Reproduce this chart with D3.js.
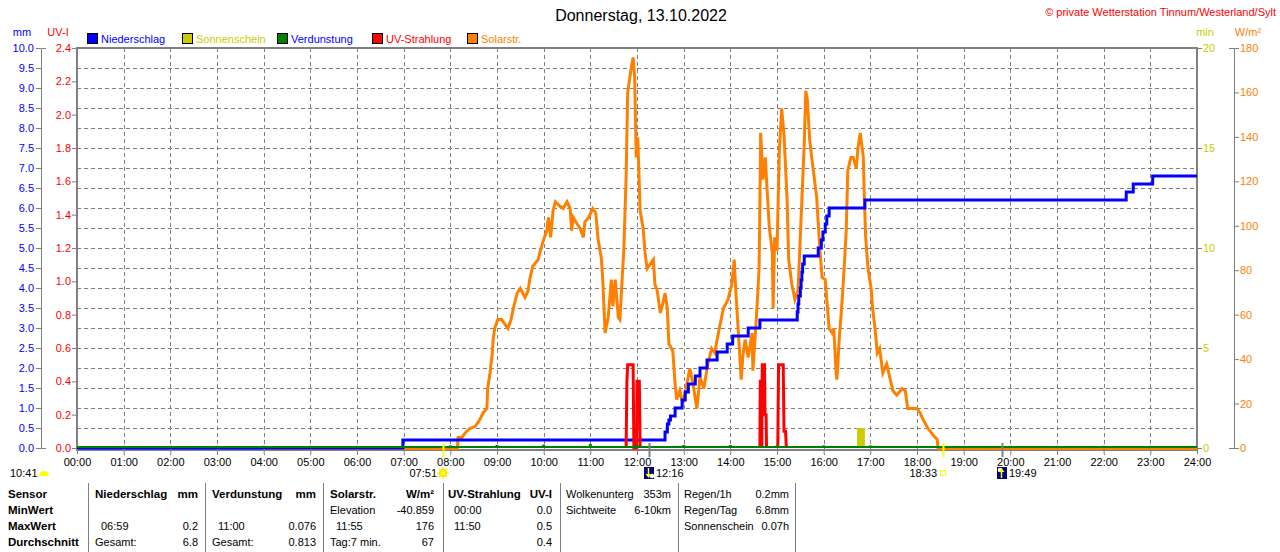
<!DOCTYPE html>
<html>
<head>
<meta charset="utf-8">
<script src="https://cdn.jsdelivr.net/npm/d3@7"></script>
<style>
  body { margin: 0; background: #fff; }
  svg { display: block; }
</style>
</head>
<body>
<div id="chart"></div>
<script>
// ---- data ----
var hourTicks = d3.range(0, 25);
var hourLabels = hourTicks.map(function (h) { return (h < 10 ? "0" : "") + h + ":00"; });

var mmTicks = d3.range(0, 10.01, 0.5);
var uvTicks = d3.range(0, 2.41, 0.2);
var minTicks = [0, 5, 10, 15, 20];
var wTicks = d3.range(0, 181, 20);

// Niederschlag, cumulative mm (value holds from this time on)
var rainTimes = ["00:00", "06:59", "12:36", "12:39", "12:41", "12:43", "12:49", "12:58", "13:02", "13:06",
  "13:15", "13:21", "13:30", "13:43", "13:56", "14:03", "14:23", "14:38", "15:26", "15:27",
  "15:28", "15:30", "15:31", "15:32", "15:33", "15:35", "15:53", "15:57", "15:59", "16:02",
  "16:04", "16:07", "16:53", "22:29", "22:38", "23:03", "24:00"];
var rainValues = [0, 0.2, 0.4, 0.6, 0.7, 0.8, 1.0, 1.2, 1.4, 1.6,
  1.8, 2.0, 2.2, 2.4, 2.6, 2.8, 3.0, 3.2, 3.4, 3.6,
  3.8, 4.0, 4.2, 4.4, 4.6, 4.8, 5.0, 5.2, 5.4, 5.6,
  5.8, 6.0, 6.2, 6.4, 6.6, 6.8, 6.8];

// Solarstrahlung W/m2
var solarTimes = ["04:04", "08:09", "08:10", "08:15", "08:19", "08:25", "08:32", "08:38", "08:42", "08:47",
  "08:48", "08:51", "08:54", "08:55", "08:57", "09:01", "09:06", "09:14", "09:18", "09:21",
  "09:26", "09:30", "09:36", "09:40", "09:42", "09:46", "09:53", "09:55", "09:59", "10:04",
  "10:06", "10:09", "10:12", "10:15", "10:21", "10:25", "10:30", "10:34", "10:36", "10:38",
  "10:43", "10:47", "10:51", "10:53", "10:58", "11:03", "11:07", "11:10", "11:14", "11:16",
  "11:19", "11:23", "11:27", "11:29", "11:32", "11:36", "11:38", "11:41", "11:43", "11:46",
  "11:48", "11:52", "11:55", "11:57", "11:59", "12:01", "12:04", "12:08", "12:10", "12:13",
  "12:17", "12:21", "12:23", "12:26", "12:30", "12:33", "12:36", "12:39", "12:41", "12:46",
  "12:49", "12:51", "12:55", "12:59", "13:04", "13:08", "13:12", "13:17", "13:21", "13:26",
  "13:31", "13:36", "13:40", "13:43", "13:47", "13:51", "13:57", "14:02", "14:05", "14:07",
  "14:10", "14:14", "14:16", "14:19", "14:23", "14:28", "14:29", "14:33", "14:37", "14:39",
  "14:42", "14:45", "14:47", "14:50", "14:54", "14:55", "14:57", "15:00", "15:03", "15:06",
  "15:09", "15:13", "15:15", "15:19", "15:23", "15:27", "15:32", "15:35", "15:37", "15:39",
  "15:42", "15:46", "15:51", "15:55", "15:58", "16:02", "16:04", "16:07", "16:11", "16:13",
  "16:16", "16:17", "16:20", "16:24", "16:26", "16:29", "16:31", "16:35", "16:38", "16:42",
  "16:44", "16:47", "16:51", "16:52", "16:54", "16:57", "17:01", "17:03", "17:06", "17:09",
  "17:12", "17:16", "17:21", "17:25", "17:29", "17:34", "17:41", "17:45", "17:48", "18:00",
  "18:04", "18:08", "18:14", "18:21", "18:26", "18:27", "24:00"];
var solarValues = [0, 0, 5, 5, 7, 9, 10, 13, 16, 18,
  27, 34, 43, 49, 54, 58, 58, 54, 58, 63,
  70, 72, 68, 71, 76, 82, 85, 88, 93, 98,
  104, 95, 107, 111, 109, 108, 111, 108, 98, 104,
  101, 99, 95, 102, 104, 108, 106, 94, 86, 76,
  52, 59, 76, 64, 76, 59, 58, 77, 89, 122,
  160, 170, 176, 167, 131, 140, 107, 99, 89, 81,
  83, 85, 74, 71, 61, 65, 70, 63, 47, 44,
  29, 22, 26, 20, 29, 36, 29, 18, 32, 27,
  38, 45, 43, 49, 56, 63, 67, 74, 85, 71,
  54, 31, 41, 49, 41, 52, 35, 56, 81, 142,
  121, 131, 118, 100, 88, 63, 95, 89, 134, 153,
  141, 112, 85, 74, 67, 71, 112, 137, 161, 157,
  139, 127, 113, 90, 77, 76, 67, 54, 52, 54,
  34, 31, 49, 68, 79, 98, 125, 131, 131, 126,
  135, 142, 131, 116, 95, 81, 72, 63, 54, 43,
  45, 34, 38, 32, 26, 24, 27, 26, 18, 18,
  16, 13, 9, 6, 4, 0, 0];

// UV-Strahlung, three short bursts
var uvBursts = [
  { times: ["11:46", "11:47", "11:48", "11:55", "11:56", "11:59.5", "12:00", "12:03", "12:04"],
    values: [0, 0.4, 0.5, 0.5, 0, 0, 0.4, 0.4, 0] },
  { times: ["14:38", "14:38.5", "14:40", "14:40.5", "14:41", "14:44", "14:44.5", "14:46", "14:46.5"],
    values: [0, 0.4, 0.4, 0, 0.5, 0.5, 0.2, 0.2, 0] },
  { times: ["15:01", "15:02", "15:08", "15:09", "15:11", "15:12"],
    values: [0, 0.5, 0.5, 0.1, 0.1, 0] }
];

// Sonnenschein minutes per interval
var sunStart = ["16:43"];
var sunEnd = ["16:53"];
var sunMinutes = [1];

// Verdunstung, hourly mm
var evapHours = d3.range(1, 24);
var evapValues = [0.03, 0.03, 0.03, 0.03, 0.03, 0.03, 0.03, 0.04, 0.05, 0.06, 0.076, 0.06,
  0.05, 0.05, 0.04, 0.04, 0.04, 0.03, 0.03, 0.03, 0.03, 0.03, 0.03];

var legendNames = ["Niederschlag", "Sonnenschein", "Verdunstung", "UV-Strahlung", "Solarstr."];
var legendColors = ["#0000ff", "#cccc00", "#008000", "#ff0000", "#ff8000"];
var legendTextColors = ["#0000ff", "#cccc00", "#0000ff", "#ff0000", "#ff8000"];

var eventTimes = ["07:51", "12:16", "18:33", "19:49"];
var eventKinds = ["sunrise", "moonset", "sunset", "moonrise"];

var tableHead = [["Sensor", ""], ["Niederschlag", "mm"], ["Verdunstung", "mm"], ["Solarstr.", "W/m\u00b2"], ["UV-Strahlung", "UV-I"]];
var rowNames = ["MinWert", "MaxWert", "Durchschnitt"];
var rainStats = [["", ""], ["06:59", "0.2"], ["Gesamt:", "6.8"]];
var evapStats = [["", ""], ["11:00", "0.076"], ["Gesamt:", "0.813"]];
var solarStats = [["Elevation", "-40.859"], ["11:55", "176"], ["Tag:7 min.", "67"]];
var uvStats = [["00:00", "0.0"], ["11:50", "0.5"], ["", "0.4"]];
var cloudInfo = [["Wolkenunterg", "353m"], ["Sichtweite", "6-10km"]];
var rainInfo = [["Regen/1h", "0.2mm"], ["Regen/Tag", "6.8mm"], ["Sonnenschein", "0.07h"]];

// ---- drawing ----
var FONT = "'Liberation Sans', Arial, sans-serif";
var GRAY = "#808080";

function hours(s) {
  var p = s.split(":");
  return +p[0] + (+p[1]) / 60;
}

var svg = d3.select("#chart").append("svg")
  .attr("width", 1280)
  .attr("height", 552)
  .style("font-family", FONT);

svg.append("rect").attr("width", 1280).attr("height", 552).attr("fill", "#fff");

var plot = { left: 77, right: 1197, top: 48, bottom: 448 };

var x = d3.scaleLinear().domain([0, 24]).range([plot.left, plot.right]);
var yMm = d3.scaleLinear().domain([0, 10]).range([plot.bottom, plot.top]);
var yUv = d3.scaleLinear().domain([0, 2.4]).range([plot.bottom, plot.top]);
var yMin = d3.scaleLinear().domain([0, 20]).range([plot.bottom, plot.top]);
var yW = d3.scaleLinear().domain([0, 180]).range([plot.bottom, plot.top]);

// title + copyright
svg.append("text")
  .attr("x", 641).attr("y", 21)
  .attr("text-anchor", "middle")
  .style("font-size", "16px")
  .attr("fill", "#000")
  .text("Donnerstag, 13.10.2022");

svg.append("text")
  .attr("x", 1276).attr("y", 16)
  .attr("text-anchor", "end")
  .style("font-size", "11px")
  .attr("fill", "#ff0000")
  .text("\u00a9 private Wetterstation Tinnum/Westerland/Sylt");

// axis unit labels
var unitLabels = [
  { t: "mm", x: 22, c: "#0000ff" },
  { t: "UV-I", x: 58, c: "#ff0000" },
  { t: "min", x: 1205, c: "#cccc00" },
  { t: "W/m\u00b2", x: 1248, c: "#ff8000" }
];
svg.selectAll(".unit").data(unitLabels).enter().append("text")
  .attr("x", d => d.x).attr("y", 36)
  .attr("text-anchor", "middle")
  .style("font-size", "11px")
  .attr("fill", d => d.c)
  .text(d => d.t);

// legend
var legend = svg.selectAll(".legend").data(legendNames).enter().append("g")
  .attr("transform", (d, i) => `translate(${87 + i * 95}, 33)`);
legend.append("rect")
  .attr("x", 0.5).attr("y", 0.5).attr("width", 10).attr("height", 10)
  .attr("fill", (d, i) => legendColors[i])
  .attr("stroke", "#000");
legend.append("text")
  .attr("x", 14).attr("y", 9.5)
  .style("font-size", "11px")
  .attr("fill", (d, i) => legendTextColors[i])
  .text(d => d);

// grid
var grid = svg.append("g").attr("stroke", GRAY).attr("stroke-dasharray", "4,3").attr("shape-rendering", "crispEdges");
grid.selectAll(".h").data(mmTicks.slice(1, -1)).enter().append("line")
  .attr("x1", plot.left).attr("x2", plot.right)
  .attr("y1", d => Math.round(yMm(d)) + 0.5).attr("y2", d => Math.round(yMm(d)) + 0.5);
grid.selectAll(".v").data(hourTicks.slice(1, -1)).enter().append("line")
  .attr("y1", plot.top).attr("y2", plot.bottom + 7)
  .attr("x1", d => Math.round(x(d)) + 0.5).attr("x2", d => Math.round(x(d)) + 0.5);

// plot frame (series are drawn over it)
svg.append("rect")
  .attr("x", plot.left).attr("y", plot.top)
  .attr("width", plot.right - plot.left).attr("height", plot.bottom - plot.top + 2)
  .attr("fill", "none").attr("stroke", GRAY).attr("stroke-width", 2);

// sunshine bars
svg.selectAll(".sun").data(sunMinutes).enter().append("rect")
  .attr("x", (d, i) => x(hours(sunStart[i])))
  .attr("width", (d, i) => x(hours(sunEnd[i])) - x(hours(sunStart[i])))
  .attr("y", d => yMin(d))
  .attr("height", d => yMin(0) - yMin(d))
  .attr("fill", "#cccc00");

// solar radiation
var solarLine = d3.line()
  .x(d => x(hours(d[0])))
  .y(d => yW(d[1]) + 0.5);
svg.append("path")
  .datum(d3.zip(solarTimes, solarValues))
  .attr("d", solarLine)
  .attr("fill", "none")
  .attr("stroke", "#ff8000")
  .attr("stroke-width", 3)
  .attr("stroke-linejoin", "miter");

// rain, cumulative steps
var rainLine = d3.line()
  .x(d => x(hours(d[0])))
  .y(d => yMm(d[1]))
  .curve(d3.curveStepAfter);
svg.append("path")
  .datum(d3.zip(rainTimes, rainValues))
  .attr("d", rainLine)
  .attr("fill", "none")
  .attr("stroke", "#0000ff")
  .attr("stroke-width", 3);

// UV bursts
var uvLine = d3.line()
  .x(d => x(hours(d[0])))
  .y(d => yUv(d[1]));
svg.selectAll(".uv").data(uvBursts).enter().append("path")
  .attr("d", d => uvLine(d3.zip(d.times, d.values)))
  .attr("fill", "none")
  .attr("stroke", "#ff0000")
  .attr("stroke-width", 3);

// evaporation: base line + hourly marks
svg.append("line")
  .attr("x1", x(0)).attr("x2", x(24))
  .attr("y1", yMm(0) - 1).attr("y2", yMm(0) - 1)
  .attr("stroke", "#008000").attr("stroke-width", 2);
svg.selectAll(".evap").data(evapValues).enter().append("rect")
  .attr("x", (d, i) => x(evapHours[i]) - 1.5)
  .attr("width", 3)
  .attr("y", d => yMm(d) - 1)
  .attr("height", d => yMm(0) - yMm(d) + 1)
  .attr("fill", "#008000");

function styleAxis(g, color) {
  g.attr("font-family", FONT).attr("font-size", 11);
  g.selectAll("text").attr("fill", color);
  g.selectAll("line").attr("stroke", GRAY);
  g.selectAll("path").attr("stroke", GRAY);
}

// left axes
svg.append("g")
  .attr("transform", "translate(41,0)")
  .call(d3.axisLeft(yMm).tickValues(mmTicks).tickFormat(d3.format(".1f")).tickSize(5).tickSizeOuter(-5).tickPadding(2))
  .call(g => styleAxis(g, "#0000ff"));

svg.append("g")
  .attr("transform", `translate(${plot.left},0)`)
  .call(d3.axisLeft(yUv).tickValues(uvTicks).tickFormat(d3.format(".1f")).tickSize(5).tickPadding(1))
  .call(g => g.select(".domain").remove())
  .call(g => styleAxis(g, "#ff0000"));

// right axes
svg.append("g")
  .attr("transform", `translate(${plot.right},0)`)
  .call(d3.axisRight(yMin).tickValues(minTicks).tickSize(5).tickPadding(1))
  .call(g => g.select(".domain").remove())
  .call(g => styleAxis(g, "#cccc00"));

svg.append("g")
  .attr("transform", "translate(1234,0)")
  .call(d3.axisRight(yW).tickValues(wTicks).tickSize(5).tickSizeOuter(-5).tickPadding(1))
  .call(g => styleAxis(g, "#ff8000"));

// time axis
svg.append("g")
  .attr("transform", `translate(0,${plot.bottom + 1})`)
  .call(d3.axisBottom(x).tickValues(hourTicks).tickFormat((d, i) => hourLabels[i]).tickSize(5).tickPadding(4))
  .call(g => g.select(".domain").remove())
  .call(g => styleAxis(g, "#000"));

// sun / moon events
var events = svg.selectAll(".event").data(eventTimes).enter().append("g")
  .attr("transform", d => `translate(${Math.round(x(hours(d)))},0)`);
events.append("line")
  .attr("x1", 0.5).attr("x2", 0.5)
  .attr("y1", 443).attr("y2", 457)
  .attr("stroke", (d, i) => eventKinds[i].indexOf("sun") === 0 ? "#ffff00" : GRAY)
  .attr("stroke-width", 2);
events.append("text")
  .attr("x", (d, i) => eventKinds[i] === "sunrise" || eventKinds[i] === "sunset" ? -6 : 7)
  .attr("y", 477)
  .attr("text-anchor", (d, i) => eventKinds[i] === "sunrise" || eventKinds[i] === "sunset" ? "end" : "start")
  .style("font-size", "11px")
  .attr("fill", "#000")
  .text(d => d);

events.each(function (d, i) {
  var g = d3.select(this);
  var kind = eventKinds[i];
  if (kind === "sunrise") {
    g.selectAll(".ray").data(d3.range(8)).enter().append("line")
      .attr("x1", 0).attr("y1", 473)
      .attr("x2", k => 6 * Math.cos(k * Math.PI / 4))
      .attr("y2", k => 473 + 6 * Math.sin(k * Math.PI / 4))
      .attr("stroke", "#ffee00").attr("stroke-width", 1.2);
    g.append("circle").attr("cx", 0).attr("cy", 473).attr("r", 3.5).attr("fill", "#ffff00").attr("stroke", "#ffcc00");
  } else if (kind === "sunset") {
    g.append("rect").attr("x", -2.5).attr("y", 470.5).attr("width", 5).attr("height", 5)
      .attr("fill", "#fff").attr("stroke", "#ffff00");
  } else {
    g.append("rect").attr("x", -5).attr("y", 467).attr("width", 10).attr("height", 12).attr("fill", "#000080");
    g.append("circle").attr("cx", kind === "moonset" ? 3 : -2).attr("cy", kind === "moonset" ? 476 : 470).attr("r", 2.3).attr("fill", "#fff");
    var arrowY = kind === "moonset" ? [468, 475] : [478, 471];
    g.append("line").attr("x1", -0.5).attr("x2", -0.5).attr("y1", arrowY[0]).attr("y2", arrowY[1])
      .attr("stroke", "#ffff00").attr("stroke-width", 1.5);
    g.append("path")
      .attr("d", kind === "moonset" ? "M-3.5,474 L2.5,474 L-0.5,478 Z" : "M-3.5,472 L2.5,472 L-0.5,468 Z")
      .attr("fill", "#ffff00");
  }
});

// moon time of the previous evening at far left
svg.append("text").attr("x", 10).attr("y", 477).style("font-size", "11px").attr("fill", "#000").text("10:41");
svg.append("path").attr("d", "M39,476 A5,5 0 0 1 49,476 Z").attr("fill", "#ffff00");

// ---- table ----
var sepX = [88, 205, 323, 443, 560, 678, 795];
svg.selectAll(".sep").data(sepX).enter().append("line")
  .attr("x1", d => d + 0.5).attr("x2", d => d + 0.5)
  .attr("y1", 483).attr("y2", 552)
  .attr("stroke", GRAY);

var rowY = [498, 514, 530, 546];
var colLeft = [8, 95, 212, 330, 448];
var colRight = [0, 198, 316, 434, 552];

tableHead.forEach(function (h, i) {
  svg.append("text").attr("x", colLeft[i]).attr("y", rowY[0])
    .style("font-size", "11.5px").style("font-weight", "bold").text(h[0]);
  if (h[1]) {
    svg.append("text").attr("x", colRight[i]).attr("y", rowY[0]).attr("text-anchor", "end")
      .style("font-size", "11.5px").style("font-weight", "bold").text(h[1]);
  }
});
rowNames.forEach(function (r, i) {
  svg.append("text").attr("x", colLeft[0]).attr("y", rowY[i + 1])
    .style("font-size", "11.5px").style("font-weight", "bold").text(r);
});

function statColumn(stats, col, firstRow) {
  stats.forEach(function (s, i) {
    var isTime = /^\d\d:\d\d$/.test(s[0]);
    svg.append("text").attr("x", colLeft[col] + (isTime ? 6 : 0)).attr("y", rowY[i + firstRow])
      .style("font-size", "11px").text(s[0]);
    svg.append("text").attr("x", colRight[col]).attr("y", rowY[i + firstRow]).attr("text-anchor", "end")
      .style("font-size", "11px").text(s[1]);
  });
}
statColumn(rainStats, 1, 1);
statColumn(evapStats, 2, 1);
statColumn(solarStats, 3, 1);
statColumn(uvStats, 4, 1);

colLeft.push(566, 684);
colRight.push(671, 789);
statColumn(cloudInfo, 5, 0);
statColumn(rainInfo, 6, 0);
</script>
</body>
</html>
